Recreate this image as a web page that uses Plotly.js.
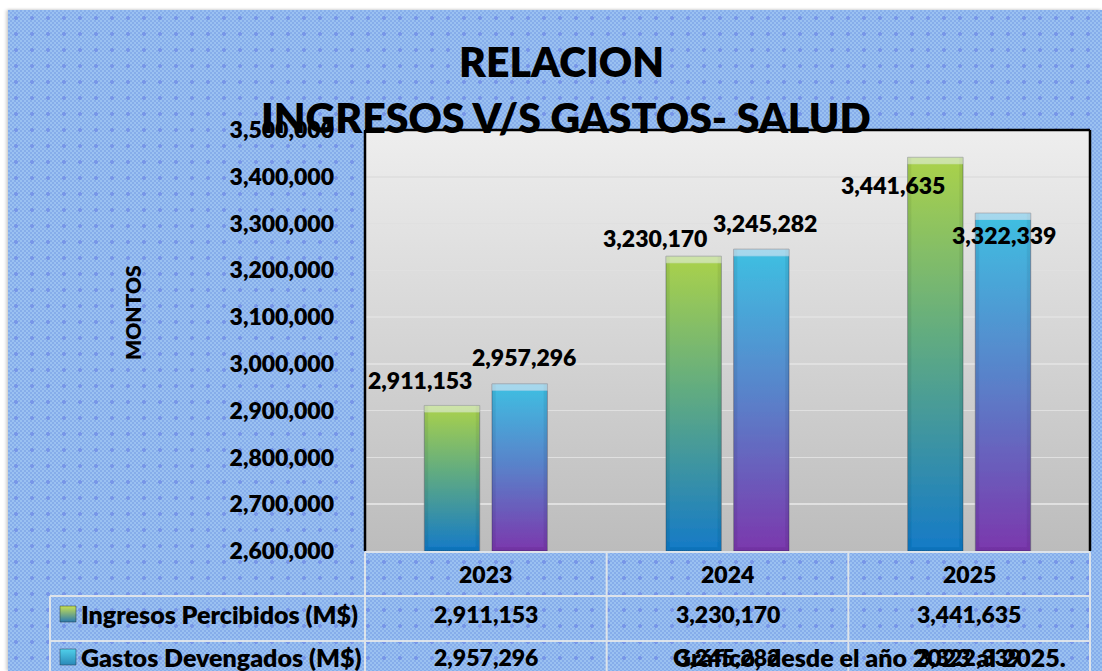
<!DOCTYPE html>
<html>
<head>
<meta charset="utf-8">
<script src="https://cdn.plot.ly/plotly-3.0.1.min.js"></script>
<style>
html,body{margin:0;padding:0;background:#ffffff;width:1102px;height:671px;overflow:hidden;}
#panel{position:absolute;left:8px;top:10px;width:1094px;height:661px;
  background-color:#8fb6ec;
  background-image:
    radial-gradient(circle at 50% 50%, rgba(118,148,232,0.95) 0 1.6px, transparent 2.2px),
    repeating-conic-gradient(#9ac1f1 0 25%, #86adea 0 50%);
  background-size:16px 16px, 4px 4px;
  box-shadow:-2px 0 3px rgba(0,0,0,0.18), 0 -1px 2px rgba(0,0,0,0.08);}
#chart{position:absolute;left:0;top:0;width:1102px;height:671px;}
</style>
</head>
<body>
<div id="panel"></div>
<div id="chart"></div>
<script>
// ---- data ----
const years = ['2023', '2024', '2025'];
const seriesNames = ['Ingresos Percibidos (M$)', 'Gastos Devengados (M$)'];
const ingresos = [2911153, 3230170, 3441635];
const gastos = [2957296, 3245282, 3322339];
const yTickVals = [2600000, 2700000, 2800000, 2900000, 3000000, 3100000, 3200000, 3300000, 3400000, 3500000];
const titleLines = ['RELACION', 'INGRESOS V/S GASTOS- SALUD'];
const yAxisTitle = 'MONTOS';
const noteText = 'Gráfico, desde el año 2023 al 2025.';

// ---- layout geometry (pixels) ----
const W = 1102, H = 671;
const L = 365, R = 1090, T = 130, B = 551;
const px2x = px => (px - L) / (R - L);
const py2y = py => (B - py) / (B - T);
const FONT = 'Lato, "Open Sans", sans-serif';
const fmt = v => v.toLocaleString('en-US');
const yMin = yTickVals[0], yMax = yTickVals[yTickVals.length - 1];

// label offsets (px) relative to each bar's category centre / value
const ingShift = [[-66, 25], [-73, 18], [-76, -28]];
const gasShift = [[38, 27], [37, 26], [35, -22]];

const data = [
  {type: 'bar', name: seriesNames[0], x: years, y: ingresos.map(v => v - yMin), base: yMin,
   marker: {color: '#5aa98c', line: {color: 'rgba(40,60,70,0.45)', width: 1}}, hoverinfo: 'skip'},
  {type: 'bar', name: seriesNames[1], x: years, y: gastos.map(v => v - yMin), base: yMin,
   marker: {color: '#5a82c8', line: {color: 'rgba(40,40,70,0.45)', width: 1}}, hoverinfo: 'skip'}
];

const annotations = [];
const shapes = [];
const bold = (size) => ({family: FONT, size: size, color: '#000000', weight: 800});

// titles
annotations.push({text: titleLines[0], xref: 'paper', yref: 'paper',
  x: px2x(561), y: py2y(62), xanchor: 'center', yanchor: 'middle', showarrow: false, font: bold(41)});
annotations.push({text: titleLines[1], xref: 'paper', yref: 'paper',
  x: px2x(566), y: py2y(118), xanchor: 'center', yanchor: 'middle', showarrow: false, font: bold(41)});
// y title
annotations.push({text: yAxisTitle, xref: 'paper', yref: 'paper',
  x: px2x(132), y: py2y(313), xanchor: 'center', yanchor: 'middle', textangle: -90, showarrow: false, font: bold(21)});

// data labels + table cells
years.forEach((yr, i) => {
  annotations.push({text: fmt(ingresos[i]), xref: 'x', yref: 'y', x: i, y: ingresos[i],
    xshift: ingShift[i][0], yshift: ingShift[i][1], xanchor: 'center', yanchor: 'middle', showarrow: false, font: bold(23)});
  annotations.push({text: fmt(gastos[i]), xref: 'x', yref: 'y', x: i, y: gastos[i],
    xshift: gasShift[i][0], yshift: gasShift[i][1], xanchor: 'center', yanchor: 'middle', showarrow: false, font: bold(23)});
  annotations.push({text: yr, xref: 'x', yref: 'paper', x: i, y: py2y(574),
    xanchor: 'center', yanchor: 'middle', showarrow: false, font: bold(23)});
  annotations.push({text: fmt(ingresos[i]), xref: 'x', yref: 'paper', x: i, y: py2y(614),
    xanchor: 'center', yanchor: 'middle', showarrow: false, font: bold(23)});
  annotations.push({text: fmt(gastos[i]), xref: 'x', yref: 'paper', x: i, y: py2y(657),
    xanchor: 'center', yanchor: 'middle', showarrow: false, font: bold(23)});
});
// table row names
annotations.push({text: seriesNames[0], xref: 'paper', yref: 'paper', x: px2x(79), y: py2y(614),
  xanchor: 'left', yanchor: 'middle', showarrow: false, font: bold(25)});
annotations.push({text: seriesNames[1], xref: 'paper', yref: 'paper', x: px2x(79), y: py2y(657),
  xanchor: 'left', yanchor: 'middle', showarrow: false, font: bold(25)});
// note
annotations.push({text: noteText, xref: 'paper', yref: 'paper', x: px2x(869), y: py2y(657),
  xanchor: 'center', yanchor: 'middle', showarrow: false, font: bold(25)});

// table lines
const tl = {color: '#dde3ea', width: 2};
const hline = (py, x0, x1) => shapes.push({type: 'line', xref: 'paper', yref: 'paper', x0: px2x(x0), x1: px2x(x1), y0: py2y(py), y1: py2y(py), line: tl, layer: 'above'});
const vlinePx = (px, y0, y1) => shapes.push({type: 'line', xref: 'paper', yref: 'paper', x0: px2x(px), x1: px2x(px), y0: py2y(y0), y1: py2y(y1), line: tl, layer: 'above'});
hline(552, L, R);
hline(596, 50, R);
hline(641, 50, R);
vlinePx(50, 596, 680);
vlinePx(L, 552, 680);
vlinePx(R, 552, 680);
[0.5, 1.5].forEach(xv => shapes.push({type: 'line', xref: 'x', yref: 'paper', x0: xv, x1: xv, y0: py2y(552), y1: py2y(680), line: tl, layer: 'above'}));

// plot border (left, top, right)
const bl = {color: '#000000', width: 2.5};
shapes.push({type: 'line', xref: 'paper', yref: 'paper', x0: 0, x1: 0, y0: 0, y1: 1, line: bl});
shapes.push({type: 'line', xref: 'paper', yref: 'paper', x0: 0, x1: 1, y0: 1, y1: 1, line: bl});
shapes.push({type: 'line', xref: 'paper', yref: 'paper', x0: 1, x1: 1, y0: 0, y1: 1, line: bl});

// legend keys
const keyIdx0 = shapes.length;
shapes.push({type: 'rect', xref: 'paper', yref: 'paper', x0: px2x(60), x1: px2x(76), y0: py2y(622), y1: py2y(606),
  fillcolor: '#6fae6a', line: {color: 'rgba(40,60,60,0.5)', width: 1}});
shapes.push({type: 'rect', xref: 'paper', yref: 'paper', x0: px2x(60), x1: px2x(76), y0: py2y(665), y1: py2y(649),
  fillcolor: '#3aaed4', line: {color: 'rgba(40,60,80,0.5)', width: 1}});

const layout = {
  width: W, height: H,
  margin: {l: L, r: W - R, t: T, b: H - B, pad: 0},
  paper_bgcolor: 'rgba(0,0,0,0)',
  plot_bgcolor: '#d6d6d6',
  showlegend: false,
  barmode: 'group',
  bargap: 0.44,
  bargroupgap: 0.18,
  xaxis: {type: 'category', categoryarray: years, range: [-0.5, 2.5], showticklabels: false,
    showgrid: false, zeroline: false, showline: false, ticks: '', fixedrange: true},
  yaxis: {range: [yMin, yMax], tickvals: yTickVals, tickformat: ',d', showgrid: true,
    gridcolor: '#e0e0e0', gridwidth: 1.5, zeroline: false, showline: false, ticks: '',
    ticklabelstandoff: 30, tickfont: bold(23), fixedrange: true},
  annotations: annotations,
  shapes: shapes
};

Plotly.newPlot('chart', data, layout, {staticPlot: true, displayModeBar: false}).then(gd => {
  const ns = 'http://www.w3.org/2000/svg';
  const svg = gd.querySelector('svg.main-svg');
  let defs = svg.querySelector('defs');
  if (!defs) { defs = document.createElementNS(ns, 'defs'); svg.insertBefore(defs, svg.firstChild); }
  const grad = (id, stops) => {
    const g = document.createElementNS(ns, 'linearGradient');
    g.setAttribute('id', id);
    g.setAttribute('x1', '0'); g.setAttribute('y1', '0'); g.setAttribute('x2', '0'); g.setAttribute('y2', '1');
    stops.forEach(([o, c]) => {
      const s = document.createElementNS(ns, 'stop');
      s.setAttribute('offset', o); s.setAttribute('stop-color', c);
      g.appendChild(s);
    });
    defs.appendChild(g);
  };
  grad('gBg', [[0, '#eeeeee'], [1, '#bcbcbc']]);
  grad('gIng', [[0, '#abd24a'], [0.45, '#62ac80'], [1, '#157ac7']]);
  grad('gGas', [[0, '#3ec0e2'], [0.5, '#5a80c9'], [1, '#7b38ad']]);
  grad('gKeyIng', [[0, '#c8e050'], [1, '#2a7ab0']]);
  grad('gKeyGas', [[0, '#50d0ea'], [1, '#2a88b8']]);
  // bevel-like edge bands for the bars
  const f = document.createElementNS(ns, 'filter');
  f.setAttribute('id', 'bevel');
  f.setAttribute('x', '-5%'); f.setAttribute('y', '-5%'); f.setAttribute('width', '110%'); f.setAttribute('height', '110%');
  f.innerHTML =
    '<feOffset in="SourceAlpha" dy="7" result="offD"/>' +
    '<feComposite in="SourceAlpha" in2="offD" operator="out" result="topBand"/>' +
    '<feFlood flood-color="#ffffff" flood-opacity="0.35" result="white"/>' +
    '<feComposite in="white" in2="topBand" operator="in" result="topHi"/>' +
    '<feOffset in="SourceAlpha" dx="4" result="offR"/>' +
    '<feComposite in="SourceAlpha" in2="offR" operator="out" result="leftBand"/>' +
    '<feOffset in="SourceAlpha" dx="-4" result="offL"/>' +
    '<feComposite in="SourceAlpha" in2="offL" operator="out" result="rightBand"/>' +
    '<feOffset in="SourceAlpha" dy="-4" result="offU"/>' +
    '<feComposite in="SourceAlpha" in2="offU" operator="out" result="botBand"/>' +
    '<feMerge result="sideBand"><feMergeNode in="leftBand"/><feMergeNode in="rightBand"/><feMergeNode in="botBand"/></feMerge>' +
    '<feFlood flood-color="#000000" flood-opacity="0.13" result="dark"/>' +
    '<feComposite in="dark" in2="sideBand" operator="in" result="sideDk"/>' +
    '<feMerge><feMergeNode in="SourceGraphic"/><feMergeNode in="sideDk"/><feMergeNode in="topHi"/></feMerge>';
  defs.appendChild(f);
  gd.querySelectorAll('rect.bg').forEach(r => {
    const w = parseFloat(r.getAttribute('width'));
    if (Math.abs(w - (R - L)) < 3) r.style.fill = 'url(#gBg)';
  });
  gd.querySelectorAll('.barlayer .trace').forEach((t, i) => {
    t.querySelectorAll('path').forEach(p => {
      p.style.fill = i === 0 ? 'url(#gIng)' : 'url(#gGas)';
      p.setAttribute('filter', 'url(#bevel)');
    });
  });
  const k0 = gd.querySelector('.shapelayer path[data-index="' + keyIdx0 + '"]');
  const k1 = gd.querySelector('.shapelayer path[data-index="' + (keyIdx0 + 1) + '"]');
  if (k0) k0.style.fill = 'url(#gKeyIng)';
  if (k1) k1.style.fill = 'url(#gKeyGas)';
});
</script>
</body>
</html>
